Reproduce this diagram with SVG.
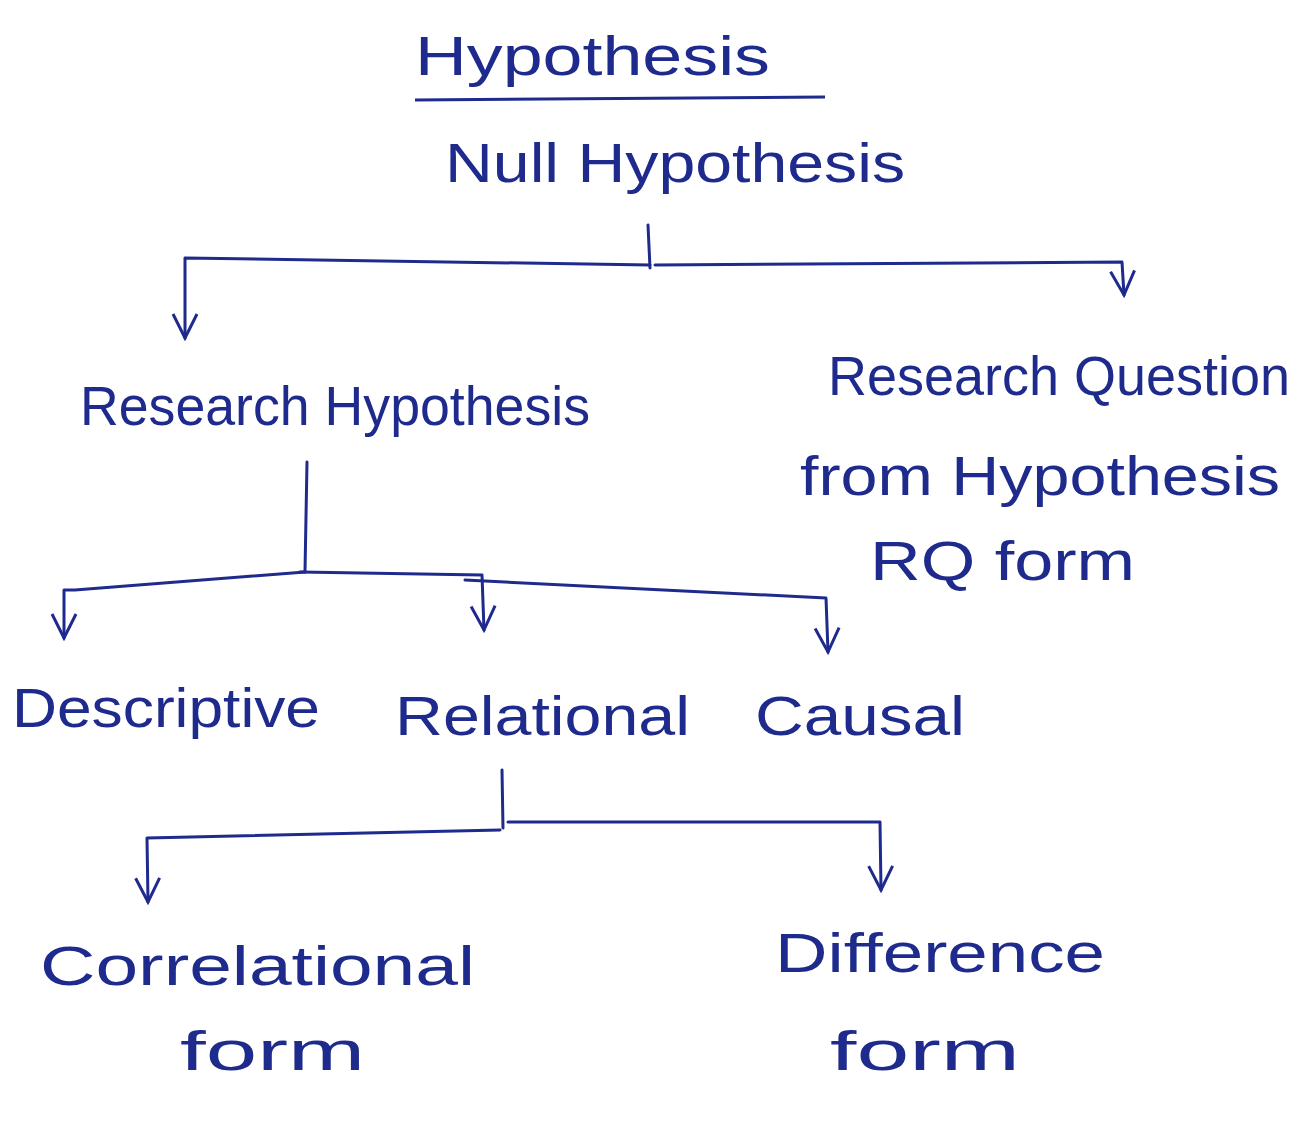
<svg xmlns="http://www.w3.org/2000/svg" width="1310" height="1124" viewBox="0 0 1310 1124">
<style>
.t{font-family:"Liberation Sans","DejaVu Sans",sans-serif;fill:#1e2a8c;font-size:56px}
.c path{fill:none;stroke:#1e2a8c;stroke-width:3;stroke-linecap:round;stroke-linejoin:round}
</style>
<defs>
<marker id="a" viewBox="0 0 10 10" refX="9" refY="5" markerWidth="10" markerHeight="10" orient="auto" markerUnits="strokeWidth">
<path d="M1,1 L9,5 L1,9" fill="none" stroke="#1e2a8c" stroke-width="1"/>
</marker>
</defs>
<rect width="1310" height="1124" fill="#ffffff"/>
<g id="title">
<text class="t" x="415" y="75" textLength="355" lengthAdjust="spacingAndGlyphs" font-size="60">Hypothesis</text>
<path d="M415,100 L825,97" stroke="#1e2a8c" stroke-width="3" fill="none"/>
</g>
<g id="null"><text class="t" x="445" y="182" textLength="460" lengthAdjust="spacingAndGlyphs">Null Hypothesis</text></g>
<g id="research"><text class="t" x="80" y="425" textLength="510" lengthAdjust="spacingAndGlyphs">Research Hypothesis</text></g>
<g id="rq">
<text class="t" x="828" y="395" textLength="462" lengthAdjust="spacingAndGlyphs" font-size="50">Research Question</text>
<text class="t" x="800" y="495" textLength="480" lengthAdjust="spacingAndGlyphs">from Hypothesis</text>
<text class="t" x="870" y="580" textLength="265" lengthAdjust="spacingAndGlyphs">RQ form</text>
</g>
<g id="descriptive"><text class="t" x="12" y="727" textLength="308" lengthAdjust="spacingAndGlyphs" font-size="60">Descriptive</text></g>
<g id="relational"><text class="t" x="395" y="735" textLength="295" lengthAdjust="spacingAndGlyphs">Relational</text></g>
<g id="causal"><text class="t" x="755" y="735" textLength="210" lengthAdjust="spacingAndGlyphs">Causal</text></g>
<g id="correlational">
<text class="t" x="40" y="985" textLength="435" lengthAdjust="spacingAndGlyphs" font-size="60">Correlational</text>
<text class="t" x="180" y="1070" textLength="185" lengthAdjust="spacingAndGlyphs">form</text>
</g>
<g id="difference">
<text class="t" x="775" y="972" textLength="330" lengthAdjust="spacingAndGlyphs" font-size="60">Difference</text>
<text class="t" x="830" y="1070" textLength="190" lengthAdjust="spacingAndGlyphs">form</text>
</g>
<g id="connectors" class="c">
<path d="M648,225 L650,268"/>
<path d="M650,265 L185,258 L185,338" marker-end="url(#a)"/>
<path d="M655,265 L1122,262 L1124,295" marker-end="url(#a)"/>
<path d="M307,462 L305,572"/>
<path d="M305,572 L75,590 L64,590 L64,638" marker-end="url(#a)"/>
<path d="M300,572 L482,575 L484,630" marker-end="url(#a)"/>
<path d="M465,580 L826,598 L828,652" marker-end="url(#a)"/>
<path d="M502,770 L503,828"/>
<path d="M500,830 L147,838 L148,902" marker-end="url(#a)"/>
<path d="M508,822 L880,822 L881,890" marker-end="url(#a)"/>
</g>
</svg>
